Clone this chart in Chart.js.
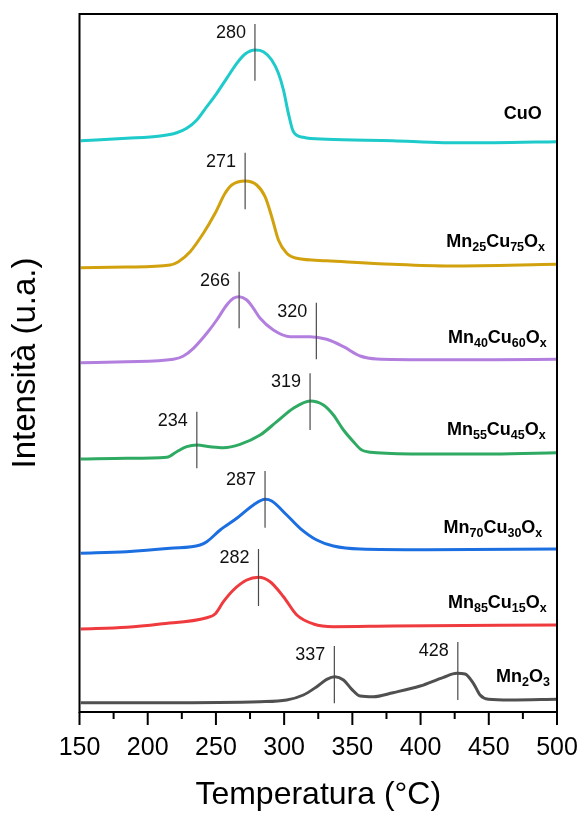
<!DOCTYPE html>
<html><head><meta charset="utf-8">
<script src="https://cdn.jsdelivr.net/npm/chart.js@4/dist/chart.umd.min.js"></script>
<style>html,body{margin:0;padding:0;background:#fff}#wrap{width:582px;height:814px}</style>
</head><body><div id="wrap"><canvas id="c" width="582" height="814"></canvas></div>
<script>
// ---- data (temperature °C, intensity a.u. with vertical offsets already included) ----
const seriesNames = ["CuO", "Mn_{25}Cu_{75}O_{x}", "Mn_{40}Cu_{60}O_{x}", "Mn_{55}Cu_{45}O_{x}", "Mn_{70}Cu_{30}O_{x}", "Mn_{85}Cu_{15}O_{x}", "Mn_{2}O_{3}"];
const seriesColors = ["#1ECACA", "#D2A10E", "#B37FDF", "#2FAA63", "#1C6FE0", "#EF3A3E", "#505050"];

const cuoT = [150.9,184.6,209.1,221.3,228.6,236,243.3,250.6,257.9,265.3,271.4,278.7,284.8,290.9,295.8,299.5,303.1,306.8,314.1,331.2,379.7,416.8,453.4,499.8];
const cuoI = [571.3,573.7,576,579.3,583.7,592,605.3,618.7,633.7,648.7,658,662,660.3,652,638.7,622,598.7,580.3,574.7,572.7,571.3,569.3,569.3,570.3];

const mn25T = [150.9,184.6,216.4,222.5,231.1,240.8,249.4,256.7,261.6,271.4,279.9,286,290.9,295.8,301.9,309.3,331.2,379.7,421.6,499.8];
const mn25I = [444.3,445,447,450.3,460.3,478.7,498.7,518.7,527,531,527,515.3,495.3,472,458.7,453.7,451.3,447.7,446,447.7];

const mn40T = [150.9,184.6,218.8,226.2,233.5,243.3,250.6,257.9,262.8,267,272.6,277.5,282.4,292.1,304.4,319,331.2,343.5,355.7,367.9,404.5,453.4,499.8];
const mn40I = [349.3,350.3,352.7,356,363.7,378.7,392,407,413.7,415.3,412,403.7,393.7,382,375.3,375.3,372.7,365.3,356,353,352.3,352.3,352.7];

const mn55T = [150.9,184.6,214,221.3,228.6,236,245.7,255.5,267.7,282.4,294.6,306.8,319,328.8,336.1,343.5,350.8,356.9,367.9,404.5,453.4,499.8];
const mn55I = [253,253.7,254.7,260.3,265.3,267,265.3,264.3,267.7,277,290.3,303.7,311,307,297,282,270.3,262,259.3,258,258,259.3];

const mn70T = [150.9,184.6,216.4,238.4,243.3,253.1,265.3,277.5,286,290.9,301.9,311.7,323.9,336.1,355.7,404.5,499.8];
const mn70I = [158.7,160.3,163.7,167,170.3,182,193.7,207,212.7,211,197,183.7,172,166,163,162.3,163];

const mn85T = [150.9,184.6,209.1,243.3,249.4,255.5,262.8,272.6,281.2,289.7,299.5,309.3,321.5,336.1,379.7,499.8];
const mn85I = [83,84.7,88,94.3,98,110.3,122,132,134.7,130.3,115.3,97,88,85.3,86,87];

const mn2o3T = [150.9,209.1,282.4,301.9,314.1,323.9,331.2,337.3,343.5,349.6,355.7,365.4,379.7,399.7,416.8,426.5,432.6,438.7,443.6,449.7,465.6,499.8];
const mn2o3I = [9.3,9.3,10.3,12,17,25.3,32.7,35.3,32,22.7,16,15.3,19.3,26,34.7,38.7,38,28.7,17,12.7,12,12.7];

// peak markers: label text, temperature where the marker is drawn, marker extent (a.u.)
const peakLabels = ["280","271","266","320","319","234","287","282","337","428"];
const peakLineT  = [278.6,271.4,267,323.6,319,236,286,281.2,336.8,427.3];
const peakTop    = [688,559.3,440.3,409.3,338.7,300.3,241,163,66,70];
const peakBottom = [631.3,502.7,383.7,352.7,282,243.7,184.3,106,8.7,12];

const xMin = 150, xMax = 500, xStep = 25;

// ---- layout of annotations (kept apart from the data) ----
const nameRightGap = [15.3, 12, 10.3, 11.3, 14.7, 10.3, 7];   // px from right border
const nameBaseline = [592.7, 465.3, 369.3, 277, 178.7, 104.5, 30.5]; // a.u.

const seriesT = [cuoT, mn25T, mn40T, mn55T, mn70T, mn85T, mn2o3T];
const seriesI = [cuoI, mn25I, mn40I, mn55I, mn70I, mn85I, mn2o3I];

const FONT = '"Liberation Sans", Arial, sans-serif';

const datasets = seriesNames.map((n, k) => ({
  label: n.replace(/_\{([^}]*)\}/g, '$1'),
  data: seriesT[k].map((t, i) => ({x: t, y: seriesI[k][i]})),
  borderColor: seriesColors[k],
  borderWidth: 3,
  pointRadius: 0,
  cubicInterpolationMode: 'monotone',
  fill: false
}));

function drawRich(ctx, str, xRight, yBase) {
  const parts = [];
  const re = /([^_]+)|_\{([^}]*)\}/g; let m;
  while ((m = re.exec(str))) parts.push(m[1] !== undefined ? {t: m[1], sub: false} : {t: m[2], sub: true});
  const fMain = 'bold 18px ' + FONT, fSub = 'bold 12.5px ' + FONT;
  let w = 0;
  parts.forEach(p => { ctx.font = p.sub ? fSub : fMain; p.w = ctx.measureText(p.t).width; w += p.w; });
  let x = xRight - w;
  ctx.textAlign = 'left'; ctx.textBaseline = 'alphabetic';
  parts.forEach(p => { ctx.font = p.sub ? fSub : fMain; ctx.fillText(p.t, x, yBase + (p.sub ? 4 : 0)); x += p.w; });
}

const overlay = {
  id: 'overlay',
  afterDatasetsDraw(chart) {
    const {ctx, chartArea: a, scales: {x, y}} = chart;
    ctx.save();
    // peak markers
    ctx.strokeStyle = '#4a4a4a'; ctx.lineWidth = 1.2;
    ctx.fillStyle = '#111';
    peakLineT.forEach((t, i) => {
      const px = x.getPixelForValue(t), y0 = y.getPixelForValue(peakTop[i]), y1 = y.getPixelForValue(peakBottom[i]);
      ctx.beginPath(); ctx.moveTo(px, y0); ctx.lineTo(px, y1); ctx.stroke();
      ctx.font = '18px ' + FONT; ctx.textAlign = 'right'; ctx.textBaseline = 'alphabetic';
      ctx.fillText(peakLabels[i], px - 9, y0 + 14);
    });
    // series names
    ctx.fillStyle = '#000';
    seriesNames.forEach((n, k) => drawRich(ctx, n, a.right - nameRightGap[k], y.getPixelForValue(nameBaseline[k])));
    // frame
    ctx.strokeStyle = '#000'; ctx.lineWidth = 2;
    ctx.strokeRect(a.left, a.top, a.right - a.left, a.bottom - a.top);
    // x tick marks (major labelled every 50, minor every 25)
    x.ticks.forEach(tk => {
      const px = x.getPixelForValue(tk.value);
      const len = (tk.value % 50 === 0) ? 13 : 7;
      ctx.beginPath(); ctx.moveTo(px, a.bottom); ctx.lineTo(px, a.bottom + len); ctx.stroke();
    });
    ctx.restore();
  }
};

new Chart(document.getElementById('c'), {
  type: 'line',
  data: {datasets},
  options: {
    responsive: false,
    animation: false,
    devicePixelRatio: 1,
    layout: {padding: {left: 0, top: 14, right: 25, bottom: 0}},
    plugins: {legend: {display: false}, tooltip: {enabled: false}},
    scales: {
      x: {
        type: 'linear', min: xMin, max: xMax,
        grid: {display: false, drawTicks: false},
        border: {display: false},
        ticks: {
          stepSize: xStep, autoSkip: false, maxRotation: 0, padding: 21,
          color: '#000', font: {family: FONT, size: 25},
          callback: v => (v % 50 === 0 ? String(v) : '')
        },
        title: {display: true, text: 'Temperatura (°C)', color: '#000', font: {family: FONT, size: 32}, padding: {top: 0, bottom: 0}},
        afterFit: s => { s.height = 102; s.paddingLeft = 0; s.paddingRight = 0; }
      },
      y: {
        type: 'linear', min: 0, max: 698,
        grid: {display: false, drawTicks: false},
        border: {display: false},
        ticks: {display: false},
        title: {display: true, text: 'Intensità (u.a.)', color: '#000', font: {family: FONT, size: 33}, padding: {top: 6, bottom: 0}},
        afterFit: s => { s.width = 79.5; s.paddingTop = 0; s.paddingBottom = 0; }
      }
    }
  },
  plugins: [overlay]
});
</script>
</body></html>
